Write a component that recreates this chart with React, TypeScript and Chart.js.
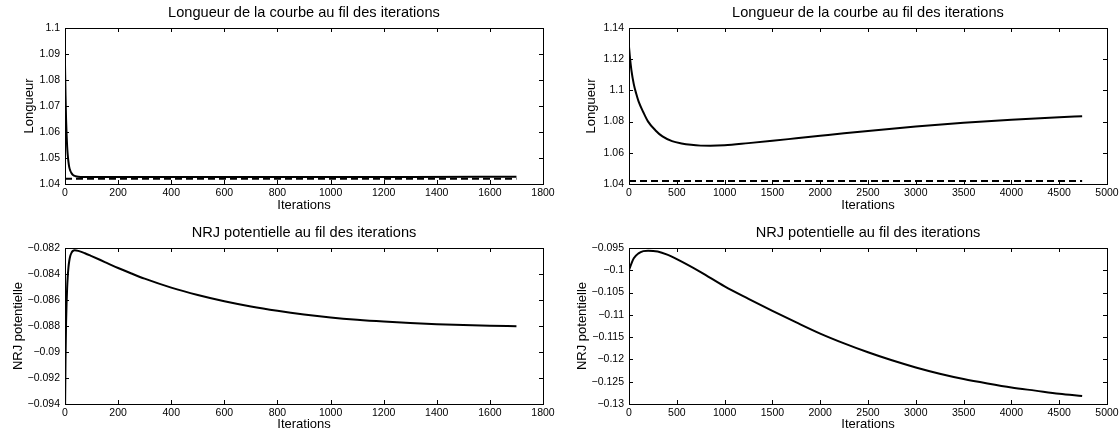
import React, { useEffect, useRef } from "react";
import { Chart, registerables } from "chart.js";

Chart.register(...registerables);

const FONT = "'Liberation Sans', Arial, Helvetica, sans-serif";

// ---- Titles ----
const titleLongueur = "Longueur de la courbe au fil des iterations";
const titleNrj = "NRJ potentielle au fil des iterations";
const xAxisTitle = "Iterations";
const yTitleLongueur = "Longueur";
const yTitleNrj = "NRJ potentielle";

// ---- Top-left: length, short run ----
const lenAIter = [0, 2, 4, 6, 8, 10, 13, 16, 20, 25, 30, 40, 50, 70, 100, 200, 400, 700, 1000, 1300, 1700];
const lenAValues = [1.086, 1.074, 1.065, 1.059, 1.0545, 1.0515, 1.0485, 1.0465, 1.0451, 1.0441, 1.0435, 1.043, 1.0428, 1.0427, 1.0427, 1.0427, 1.0427, 1.0427, 1.0427, 1.0427, 1.0428];
const lenARefIter = [0, 1700];
const lenARefValues = [1.042, 1.042];

// ---- Top-right: length, long run ----
const lenBIter = [0, 10, 25, 50, 75, 100, 150, 200, 275, 350, 450, 550, 650, 750, 850, 1000, 1250, 1500, 1750, 2000, 2250, 2500, 2750, 3000, 3500, 4000, 4500, 4740];
const lenBValues = [1.128, 1.121, 1.113, 1.104, 1.098, 1.093, 1.086, 1.08, 1.0745, 1.0705, 1.0675, 1.066, 1.0651, 1.0646, 1.0645, 1.0648, 1.0662, 1.0677, 1.0693, 1.0709, 1.0725, 1.074, 1.0754, 1.0768, 1.0792, 1.0812, 1.0828, 1.0834];
const lenBRefIter = [0, 4740];
const lenBRefValues = [1.042, 1.042];

// ---- Bottom-left: potential energy, short run ----
const nrjAIter = [0, 2, 4, 6, 8, 10, 13, 16, 20, 25, 30, 36, 50, 75, 100, 150, 200, 250, 300, 400, 500, 600, 700, 800, 900, 1000, 1100, 1200, 1300, 1400, 1500, 1600, 1700];
const nrjAValues = [-0.095, -0.0905, -0.0878, -0.0862, -0.0851, -0.0843, -0.0835, -0.083, -0.0826, -0.08235, -0.08222, -0.08218, -0.08222, -0.0824, -0.08262, -0.08308, -0.08354, -0.08396, -0.08436, -0.08505, -0.08562, -0.0861, -0.0865, -0.08683, -0.08711, -0.08734, -0.08752, -0.08766, -0.08777, -0.08786, -0.08793, -0.08798, -0.08802];

// ---- Bottom-right: potential energy, long run ----
const nrjBIter = [0, 25, 50, 100, 150, 200, 300, 400, 500, 750, 1000, 1250, 1500, 1750, 2000, 2250, 2500, 2750, 3000, 3250, 3500, 3750, 4000, 4250, 4500, 4740];
const nrjBValues = [-0.1, -0.0985, -0.0973, -0.0962, -0.0957, -0.0956, -0.0958, -0.0965, -0.0975, -0.1004, -0.1036, -0.1064, -0.1091, -0.1117, -0.1142, -0.1164, -0.1184, -0.1202, -0.1218, -0.1232, -0.1244, -0.1254, -0.1263, -0.127, -0.1277, -0.1282];

// ---- Ticks ----
const xTicksShort = [0, 200, 400, 600, 800, 1000, 1200, 1400, 1600, 1800];
const xLabelsShort = ["0", "200", "400", "600", "800", "1000", "1200", "1400", "1600", "1800"];
const xTicksLong = [0, 500, 1000, 1500, 2000, 2500, 3000, 3500, 4000, 4500, 5000];
const xLabelsLong = ["0", "500", "1000", "1500", "2000", "2500", "3000", "3500", "4000", "4500", "5000"];
const yTicksLenA = [1.04, 1.05, 1.06, 1.07, 1.08, 1.09, 1.1];
const yLabelsLenA = ["1.04", "1.05", "1.06", "1.07", "1.08", "1.09", "1.1"];
const yTicksLenB = [1.04, 1.06, 1.08, 1.1, 1.12, 1.14];
const yLabelsLenB = ["1.04", "1.06", "1.08", "1.1", "1.12", "1.14"];
const yTicksNrjA = [-0.094, -0.092, -0.09, -0.088, -0.086, -0.084, -0.082];
const yLabelsNrjA = ["\u22120.094", "\u22120.092", "\u22120.09", "\u22120.088", "\u22120.086", "\u22120.084", "\u22120.082"];
const yTicksNrjB = [-0.13, -0.125, -0.12, -0.115, -0.11, -0.105, -0.1, -0.095];
const yLabelsNrjB = ["\u22120.13", "\u22120.125", "\u22120.12", "\u22120.115", "\u22120.11", "\u22120.105", "\u22120.1", "\u22120.095"];

const toPoints = (xs: number[], ys: number[]) => xs.map((x, i) => ({ x, y: ys[i] }));

const boxPlugin = {
  id: "matlabBox",
  afterDatasetsDraw(chart: any) {
    const { ctx, chartArea } = chart;
    const { left, top, right, bottom } = chartArea;
    const xs = chart.scales.x;
    const ys = chart.scales.y;
    const tl = 4;
    ctx.save();
    ctx.strokeStyle = "#000";
    ctx.lineWidth = 1;
    ctx.beginPath();
    xs.ticks.forEach((t: any) => {
      const p = Math.round(xs.getPixelForValue(t.value)) + 0.5;
      ctx.moveTo(p, bottom);
      ctx.lineTo(p, bottom - tl);
      ctx.moveTo(p, top);
      ctx.lineTo(p, top + tl);
    });
    ys.ticks.forEach((t: any) => {
      const p = Math.round(ys.getPixelForValue(t.value)) + 0.5;
      ctx.moveTo(left, p);
      ctx.lineTo(left + tl, p);
      ctx.moveTo(right, p);
      ctx.lineTo(right - tl, p);
    });
    ctx.stroke();
    ctx.strokeRect(left + 0.5, top + 0.5, right - left, bottom - top);
    ctx.restore();
  },
};

type PanelProps = {
  left: number;
  top: number;
  width: number;
  height: number;
  area: { l: number; t: number; r: number; b: number };
  titleY: number;
  xTitleY: number;
  yTitleX: number;
  title: string;
  yTitle: string;
  xMin: number;
  xMax: number;
  xTicks: number[];
  xLabels: string[];
  yMin: number;
  yMax: number;
  yTicks: number[];
  yLabels: string[];
  series: { xs: number[]; ys: number[]; dashed?: boolean }[];
};

function Panel(p: PanelProps) {
  const ref = useRef<HTMLCanvasElement | null>(null);
  useEffect(() => {
    if (!ref.current) return;
    const LH = 13 * 1.2;
    const TLH = 14.6 * 1.2;
    const chart = new Chart(ref.current, {
      type: "line",
      data: {
        datasets: p.series.map((s) => ({
          data: toPoints(s.xs, s.ys),
          borderColor: "#000",
          borderWidth: 2,
          borderDash: s.dashed ? [7, 4] : [],
          pointRadius: 0,
          fill: false,
          cubicInterpolationMode: "monotone" as const,
          clip: 0,
        })),
      },
      options: {
        animation: false,
        responsive: false,
        devicePixelRatio: 1,
        layout: { padding: { left: 0, top: 0, right: p.width - p.area.r, bottom: 0 } },
        plugins: {
          legend: { display: false },
          tooltip: { enabled: false },
          title: {
            display: true,
            fullSize: false,
            text: p.title,
            color: "#000",
            font: { family: FONT, size: 14.6, weight: "normal", lineHeight: 1.2 },
            padding: { top: p.titleY - TLH / 2, bottom: p.area.t - TLH - (p.titleY - TLH / 2) },
          },
        },
        scales: {
          x: {
            type: "linear",
            min: p.xMin,
            max: p.xMax,
            afterBuildTicks: (s: any) => {
              s.ticks = p.xTicks.map((v) => ({ value: v }));
            },
            afterFit: (s: any) => {
              s.height = p.height - p.area.b;
              s.paddingLeft = 0;
              s.paddingRight = 0;
            },
            ticks: {
              autoSkip: false,
              maxRotation: 0,
              padding: 4,
              color: "#000",
              font: { family: FONT, size: 10.5, lineHeight: 1 },
              callback: (_v: any, i: number) => p.xLabels[i],
            },
            grid: { display: false, drawTicks: false },
            border: { display: false },
            title: {
              display: true,
              text: xAxisTitle,
              color: "#000",
              font: { family: FONT, size: 13, lineHeight: 1.2 },
              padding: { top: 0, bottom: p.height - p.xTitleY - LH / 2 },
            },
          },
          y: {
            type: "linear",
            min: p.yMin,
            max: p.yMax,
            afterBuildTicks: (s: any) => {
              s.ticks = p.yTicks.map((v) => ({ value: v }));
            },
            afterFit: (s: any) => {
              s.width = p.area.l;
              s.paddingTop = 0;
              s.paddingBottom = 0;
            },
            ticks: {
              autoSkip: false,
              padding: 5,
              color: "#000",
              font: { family: FONT, size: 10.5, lineHeight: 1 },
              callback: (_v: any, i: number) => p.yLabels[i],
            },
            grid: { display: false, drawTicks: false },
            border: { display: false },
            title: {
              display: true,
              text: p.yTitle,
              color: "#000",
              font: { family: FONT, size: 13, lineHeight: 1.2 },
              padding: { top: p.yTitleX - LH / 2, bottom: 0 },
            },
          },
        },
      },
      plugins: [boxPlugin],
    } as any);
    return () => chart.destroy();
  }, []);
  return (
    <canvas
      ref={ref}
      width={p.width}
      height={p.height}
      style={{ position: "absolute", left: p.left, top: p.top, width: p.width, height: p.height }}
    />
  );
}

export default function App() {
  return (
    <div style={{ position: "fixed", left: 0, top: 0, width: 1119, height: 438, background: "#fff", overflow: "hidden" }}>
      <Panel
        left={0} top={0} width={560} height={219}
        area={{ l: 65, t: 28, r: 543, b: 184 }}
        titleY={13} xTitleY={205} yTitleX={29.5}
        title={titleLongueur} yTitle={yTitleLongueur}
        xMin={0} xMax={1800} xTicks={xTicksShort} xLabels={xLabelsShort}
        yMin={1.04} yMax={1.1} yTicks={yTicksLenA} yLabels={yLabelsLenA}
        series={[{ xs: lenARefIter, ys: lenARefValues, dashed: true }, { xs: lenAIter, ys: lenAValues }]}
      />
      <Panel
        left={560} top={0} width={559} height={219}
        area={{ l: 69, t: 28, r: 547, b: 184 }}
        titleY={13} xTitleY={205} yTitleX={31}
        title={titleLongueur} yTitle={yTitleLongueur}
        xMin={0} xMax={5000} xTicks={xTicksLong} xLabels={xLabelsLong}
        yMin={1.04} yMax={1.14} yTicks={yTicksLenB} yLabels={yLabelsLenB}
        series={[{ xs: lenBRefIter, ys: lenBRefValues, dashed: true }, { xs: lenBIter, ys: lenBValues }]}
      />
      <Panel
        left={0} top={219} width={560} height={219}
        area={{ l: 65, t: 29, r: 543, b: 185 }}
        titleY={14} xTitleY={205} yTitleX={18}
        title={titleNrj} yTitle={yTitleNrj}
        xMin={0} xMax={1800} xTicks={xTicksShort} xLabels={xLabelsShort}
        yMin={-0.094} yMax={-0.082} yTicks={yTicksNrjA} yLabels={yLabelsNrjA}
        series={[{ xs: nrjAIter, ys: nrjAValues }]}
      />
      <Panel
        left={560} top={219} width={559} height={219}
        area={{ l: 69, t: 29, r: 547, b: 185 }}
        titleY={14} xTitleY={205} yTitleX={22}
        title={titleNrj} yTitle={yTitleNrj}
        xMin={0} xMax={5000} xTicks={xTicksLong} xLabels={xLabelsLong}
        yMin={-0.13} yMax={-0.095} yTicks={yTicksNrjB} yLabels={yLabelsNrjB}
        series={[{ xs: nrjBIter, ys: nrjBValues }]}
      />
    </div>
  );
}
